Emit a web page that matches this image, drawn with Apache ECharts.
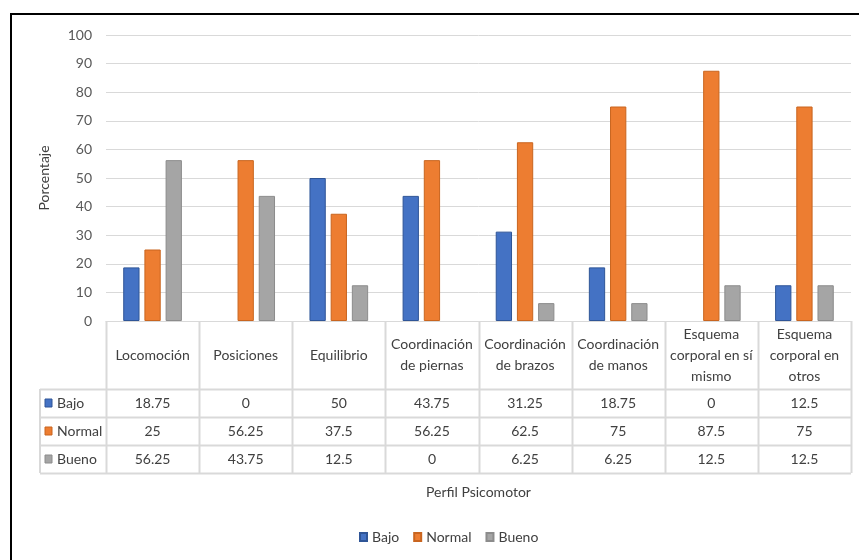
<!DOCTYPE html>
<html>
<head>
<meta charset="utf-8">
<script src="https://cdn.jsdelivr.net/npm/echarts@6/dist/echarts.min.js"></script>
<style>
  html, body { margin: 0; padding: 0; background: #fff; }
  #perfilChart { width: 859px; height: 560px; }
</style>
</head>
<body>
<div id="perfilChart"></div>
<script>
var categories = ['Locomoción', 'Posiciones', 'Equilibrio', 'Coordinación\nde piernas',
    'Coordinación\nde brazos', 'Coordinación\nde manos', 'Esquema\ncorporal en sí\nmismo', 'Esquema\ncorporal en\notros'];
var bajo = [18.75, 0, 50, 43.75, 31.25, 18.75, 0, 12.5];
var normal = [25, 56.25, 37.5, 56.25, 62.5, 75, 87.5, 75];
var bueno = [56.25, 43.75, 12.5, 0, 6.25, 6.25, 12.5, 12.5];
var seriesNames = ['Bajo', 'Normal', 'Bueno'];
var seriesColors = ['#4472C4', '#ED7D31', '#A5A5A5'];
var borderColors = ['#2F5597', '#C9651F', '#8C8C8C'];

var fontFamily = 'Lato, "Open Sans", sans-serif';
var gridColor = '#D9D9D9';
var textColor = '#404040';

var chart = echarts.init(document.getElementById('perfilChart'));

function makeSeries(idx, values) {
    return {
        name: seriesNames[idx],
        type: 'bar',
        // no outline on empty bars, like Excel
        data: values.map(function (v) {
            return v === 0 ? {value: v, itemStyle: {borderWidth: 0}} : v;
        }),
        barGap: '30%',
        barCategoryGap: '37%',
        itemStyle: {
            color: seriesColors[idx],
            borderColor: borderColors[idx],
            borderWidth: 1
        }
    };
}

var option = {
    animation: false,
    textStyle: {fontFamily: fontFamily},
    grid: {
        left: 106,
        right: 8,
        top: 35,
        bottom: 239
    },
    legend: {
        top: 525,
        left: 354,
        itemWidth: 7,
        itemHeight: 8,
        itemGap: 14,
        icon: 'rect',
        textStyle: {fontSize: 14, color: textColor, fontFamily: fontFamily},
        data: seriesNames
    },
    xAxis: {
        type: 'category',
        data: categories,
        name: 'Perfil Psicomotor',
        nameLocation: 'middle',
        nameGap: 164,
        nameTextStyle: {fontSize: 14, color: textColor},
        axisLine: {lineStyle: {color: gridColor}},
        axisTick: {show: false},
        axisLabel: {
            interval: 0,
            margin: 34,
            verticalAlign: 'middle',
            lineHeight: 21,
            fontSize: 14,
            color: textColor
        }
    },
    yAxis: {
        type: 'value',
        min: 0,
        max: 100,
        interval: 10,
        name: 'Porcentaje',
        nameLocation: 'middle',
        nameRotate: 90,
        nameGap: 55,
        nameTextStyle: {fontSize: 14, color: textColor},
        axisLine: {show: false},
        axisTick: {show: false},
        axisLabel: {margin: 14, fontSize: 14, color: '#595959'},
        splitLine: {lineStyle: {color: gridColor, width: 1}}
    },
    series: [
        makeSeries(0, bajo),
        makeSeries(1, normal),
        makeSeries(2, bueno)
    ]
};

chart.setOption(option);

// data table under the axis, placed from the axis scale
function buildTable() {
    var rows = [bajo, normal, bueno];
    var c0 = chart.convertToPixel({xAxisIndex: 0}, 0);
    var c1 = chart.convertToPixel({xAxisIndex: 0}, 1);
    var band = c1 - c0;
    var xStart = c0 - band / 2;
    var xEnd = xStart + band * categories.length;
    var yTop = chart.convertToPixel({yAxisIndex: 0}, 0);
    var headH = 68;
    var rowH = 28;
    var rowTop = yTop + headH;
    var yBottom = rowTop + rowH * rows.length;
    var tableLeft = 40;
    var els = [];
    var lineStyle = {stroke: gridColor, lineWidth: 2};

    // frame round the whole chart
    els.push({
        type: 'rect', shape: {x: 11, y: 14, width: 900, height: 600},
        style: {fill: null, stroke: '#000', lineWidth: 2}, silent: true
    });

    for (var i = 0; i <= categories.length; i++) {
        var x = Math.round(xStart + band * i) + 0.5;
        els.push({type: 'line', shape: {x1: x, y1: yTop, x2: x, y2: yBottom}, style: lineStyle});
    }
    els.push({type: 'line', shape: {x1: tableLeft, y1: rowTop, x2: tableLeft, y2: yBottom}, style: lineStyle});
    for (var r = 0; r <= rows.length; r++) {
        var y = Math.round(rowTop + rowH * r) + 0.5;
        els.push({type: 'line', shape: {x1: tableLeft, y1: y, x2: xEnd, y2: y}, style: lineStyle});
    }
    for (r = 0; r < rows.length; r++) {
        var cy = rowTop + rowH * r + rowH / 2;
        els.push({
            type: 'rect', shape: {x: tableLeft + 5, y: cy - 4, width: 7, height: 8},
            style: {fill: seriesColors[r], stroke: borderColors[r], lineWidth: 1}
        });
        els.push({
            type: 'text', x: tableLeft + 17, y: cy,
            style: {text: seriesNames[r], fill: textColor, font: '14px ' + fontFamily, verticalAlign: 'middle'}
        });
        for (var c = 0; c < categories.length; c++) {
            els.push({
                type: 'text', x: xStart + band * c + band / 2, y: cy,
                style: {
                    text: String(rows[r][c]), fill: textColor, font: '14px ' + fontFamily,
                    align: 'center', verticalAlign: 'middle'
                }
            });
        }
    }
    chart.setOption({graphic: {elements: els}});
}

buildTable();
</script>
</body>
</html>
